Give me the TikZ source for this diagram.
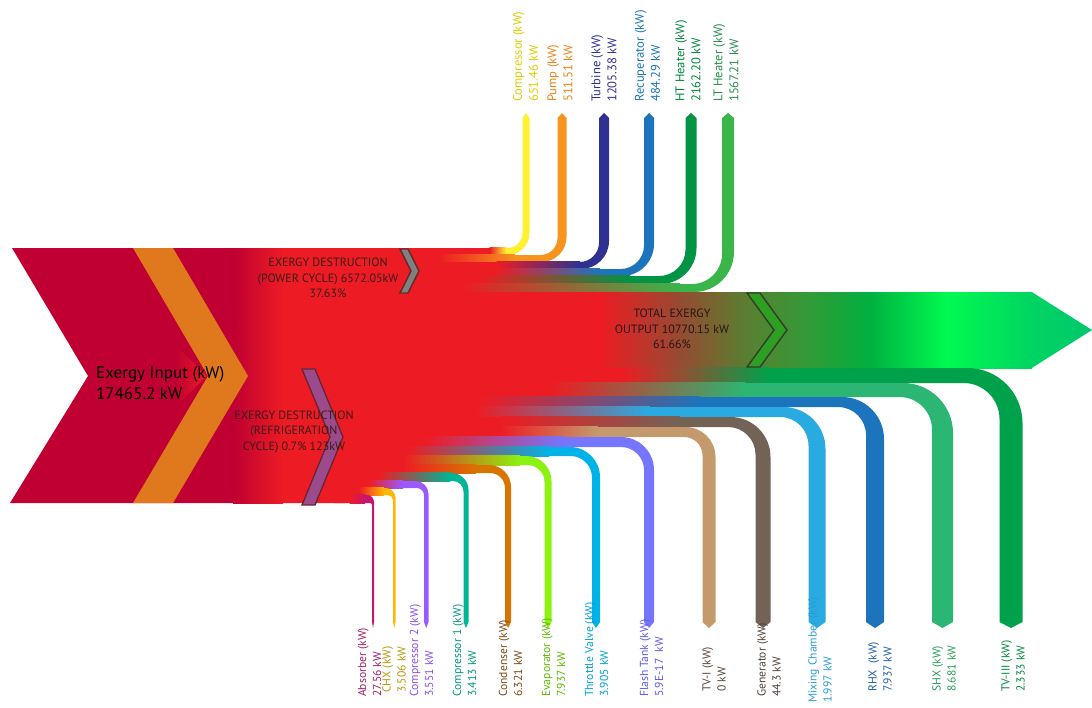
\documentclass[tikz,border=0pt]{standalone}
\usepackage{fontspec}
\setmainfont{PT Sans}

\definecolor{exred}{RGB}{237,28,36}
\definecolor{excrimson}{RGB}{192,0,50}
\definecolor{exorange}{RGB}{224,120,30}
\definecolor{labeldark}{RGB}{60,25,25}
% power cycle colours
\definecolor{pcyellow}{RGB}{255,240,50}
\definecolor{pcorange}{RGB}{247,148,29}
\definecolor{pcnavy}{RGB}{46,49,146}
\definecolor{pcblue}{RGB}{28,117,188}
\definecolor{pcgreen}{RGB}{0,148,68}
\definecolor{pclime}{RGB}{57,181,74}
% refrigeration cycle colours
\definecolor{rcabs}{RGB}{200,20,110}
\definecolor{rcchx}{RGB}{255,184,0}
\definecolor{rccomptwo}{RGB}{155,90,255}
\definecolor{rccompone}{RGB}{0,180,150}
\definecolor{rccond}{RGB}{217,116,0}
\definecolor{rcevap}{RGB}{140,242,15}
\definecolor{rcthrottle}{RGB}{0,179,230}
\definecolor{rcflash}{RGB}{117,117,255}
\definecolor{rctvone}{RGB}{196,154,108}
\definecolor{rcgen}{RGB}{115,99,87}
\definecolor{rcmix}{RGB}{41,171,226}
\definecolor{rcrhx}{RGB}{28,117,188}
\definecolor{rcshx}{RGB}{43,182,115}
\definecolor{rctvthree}{RGB}{0,161,75}
% output arrow
\definecolor{outbrown}{RGB}{150,75,50}
\definecolor{outolive}{RGB}{88,128,48}
\definecolor{outgreen}{RGB}{50,155,55}
\definecolor{outdeep}{RGB}{0,176,64}
\definecolor{outbright}{RGB}{0,250,80}
\definecolor{outend}{RGB}{0,212,98}
\definecolor{outtip}{RGB}{0,200,108}

% band: colour, top, bottom, left, right, radius, fade start, fade end
\newcommand{\downband}[8]{%
  \pgfmathsetmacro{\bandri}{max(#6-(#3-#2+#5-#4)/2,1.5)}%
  \pgfmathsetmacro{\bandko}{0.552*#6}%
  \pgfmathsetmacro{\bandki}{0.552*\bandri}%
  \pgfmathsetmacro{\bandmid}{(#4+#5)/2}%
  \fill[#1] (335,#2) -- ({#5-#6},#2) .. controls ({#5-#6+\bandko},#2) and (#5,{#2+#6-\bandko}) .. (#5,{#2+#6})
    -- (#5,622) -- (\bandmid,628) -- (#4,622) -- (#4,{#3+\bandri})
    .. controls (#4,{#3+\bandri-\bandki}) and ({#4-\bandri+\bandki},#3) .. ({#4-\bandri},#3) -- (335,#3) -- cycle;
  \fill[exred] (335,{#2-0.4}) rectangle (#7,{#3+0.4});
  \shade[left color=exred, right color=#1] ({#7-0.3},{#2-0.4}) rectangle (#8,{#3+0.4});
}
\newcommand{\upband}[8]{%
  \pgfmathsetmacro{\bandri}{max(#6-(#3-#2+#5-#4)/2,1.5)}%
  \pgfmathsetmacro{\bandko}{0.552*#6}%
  \pgfmathsetmacro{\bandki}{0.552*\bandri}%
  \pgfmathsetmacro{\bandmid}{(#4+#5)/2}%
  \fill[#1] (335,#3) -- ({#5-#6},#3) .. controls ({#5-#6+\bandko},#3) and (#5,{#3-#6+\bandko}) .. (#5,{#3-#6})
    -- (#5,118) -- (\bandmid,113) -- (#4,118) -- (#4,{#2-\bandri})
    .. controls (#4,{#2-\bandri+\bandki}) and ({#4-\bandri+\bandki},#2) .. ({#4-\bandri},#2) -- (335,#2) -- cycle;
  \fill[exred] (335,{#2-0.4}) rectangle (#7,{#3+0.4});
  \shade[left color=exred, right color=#1] ({#7-0.3},{#2-0.4}) rectangle (#8,{#3+0.4});
}

\begin{document}
\begin{tikzpicture}[x=1pt, y=-1pt,
  barlabel/.style={rotate=90, anchor=west, align=left, inner sep=0pt, font=\fontsize{11.6}{15}\selectfont},
  toplabel/.style={barlabel, font=\fontsize{12.6}{16}\selectfont},
  midlabel/.style={align=center, inner sep=0pt, text=labeldark, font=\fontsize{12}{15.5}\selectfont},
  chevron/.style={line width=1.4pt, line join=miter}]

\useasboundingbox (0,0) rectangle (1092,707);

%input
\fill[excrimson] (12,248) -- (345,248) -- (345,503) -- (10,503) -- (88,376) -- cycle;
\shade[left color=excrimson, right color=exred] (233,248) rectangle (283,503);
\fill[exred] (282.7,248) rectangle (345,503);
\shade[left color=excrimson, right color=exred] (175,345) -- (207,376) -- (175,407) -- cycle;
\fill[exorange] (133,248) -- (173,248) -- (248,376) -- (173,503) -- (133,503) -- (208,376) -- cycle;

%power cycle
\upband{pcyellow}{248}{255}{522.5}{529.5}{22}{490}{506}
\upband{pcorange}{255}{262}{557.5}{566.5}{25}{440}{515}
\upband{pcnavy}{262}{269}{599}{609}{28}{497}{580}
\upband{pcblue}{269}{276}{644}{654}{32}{497}{600}
\upband{pcgreen}{276}{284}{685.5}{696.5}{36}{480}{630}
\upband{pclime}{284}{292}{722}{734}{40}{463}{680}

%output
\fill[exred] (335,292) rectangle (600,368);
\shade[left color=exred, right color=outbrown] (599.7,292) rectangle (680,368);
\shade[left color=outbrown, right color=outolive] (679.7,292) rectangle (747,368);
\shade[left color=outolive, right color=outgreen] (746.7,292) rectangle (810,368);
\shade[left color=outgreen, right color=outdeep] (809.7,292) rectangle (870,368);
\shade[left color=outdeep, right color=outbright] (869.7,292) rectangle (947,368);
\shade[left color=outbright, right color=outend] (946.7,292) rectangle (1032,368);
\shade[left color=outend, right color=outtip] (1031.7,292) -- (1092,330) -- (1031.7,368) -- cycle;

%refrigeration cycle
\downband{rctvthree}{368}{383}{999.5}{1022.5}{55}{623}{769}
\downband{rcshx}{383}{397}{932}{953}{50}{550}{745}
\downband{rcrhx}{397}{407}{866}{884}{42}{480}{700}
\downband{rcmix}{407}{417}{808.5}{825.5}{42}{476}{650}
\downband{rcgen}{417}{427}{755.5}{770.5}{40}{500}{680}
\downband{rctvone}{427}{437}{702.5}{715.5}{30}{500}{598}
\downband{rcflash}{437}{447}{644}{654}{33}{427}{564}
\downband{rcthrottle}{447}{456}{592}{600}{30}{408}{549}
\downband{rcevap}{456}{465}{544.5}{551.5}{25}{403}{520}
\downband{rccond}{465}{473}{505}{511}{22}{403}{476}
\downband{rccompone}{473}{481}{463.5}{468.5}{17}{379}{450}
\downband{rccomptwo}{481}{488}{424}{428.5}{13}{369}{403}
\downband{rcchx}{488}{495}{393}{395.5}{10}{359}{384}
\downband{rcabs}{495}{503}{372}{374}{7}{350}{365}

%chevrons
\filldraw[chevron, fill={rgb,255:red,128;green,128;blue,128}, draw={rgb,255:red,105;green,40;blue,40}]
  (400,249) -- (408,249) -- (419,271) -- (408,293) -- (400,293) -- (411,271) -- cycle;
\filldraw[chevron, fill={rgb,255:red,155;green,75;blue,140}, draw={rgb,255:red,110;green,35;blue,50}]
  (302,369) -- (315,369) -- (343,437) -- (315,505) -- (302,505) -- (330,437) -- cycle;
\filldraw[chevron, fill={rgb,255:red,45;green,160;blue,35}, draw={rgb,255:red,50;green,62;blue,40}]
  (747,293) -- (760,293) -- (787,330) -- (760,367) -- (747,367) -- (774,330) -- cycle;

%texts
\node[anchor=west, align=left, inner sep=0pt, font=\fontsize{17}{21}\selectfont] (input) at (96,383) {Exergy Input (kW)\\17465.2 kW};
\node[midlabel] (powerloss) at (328,278) {EXERGY DESTRUCTION\\(POWER CYCLE) 6572.05kW\\37.63\%};
\node[midlabel] (refloss) at (294,432) {EXERGY DESTRUCTION\\(REFRIGERATION\\CYCLE) 0.7\% 123kW};
\node[midlabel, text={rgb,255:red,40;green,20;blue,20}] (output) at (672,329) {TOTAL EXERGY\\OUTPUT 10770.15 kW\\61.66\%};

\node[toplabel, text={rgb,255:red,222;green,205;blue,0}] (lbl-comp) at (525.5,102) {Compressor (kW)\\651.46 kW};
\node[toplabel, text={rgb,255:red,235;green,130;blue,25}] (lbl-pump) at (560,102) {Pump (kW)\\511.51 kW};
\node[toplabel, text=pcnavy] (lbl-turb) at (604,102) {Turbine (kW)\\1205.38 kW};
\node[toplabel, text=pcblue] (lbl-recup) at (647.5,102) {Recuperator (kW)\\484.29 kW};
\node[toplabel, text={rgb,255:red,0;green,135;blue,62}] (lbl-ht) at (688,102) {HT Heater (kW)\\2162.20 kW};
\node[toplabel, text={rgb,255:red,40;green,140;blue,75}] (lbl-lt) at (726,102) {LT Heater (kW)\\1567.21 kW};

\node[barlabel, text={rgb,255:red,158;green,31;blue,99}] (lbl-abs) at (369.5,697) {Absorber (kW)\\27.56 kW};
\node[barlabel, text={rgb,255:red,184;green,150;blue,10}] (lbl-chx) at (394,693) {CHX (kW)\\3.506 kW};
\node[barlabel, text={rgb,255:red,138;green,79;blue,230}] (lbl-comptwo) at (421.5,697) {Compressor 2 (kW)\\3.551 kW};
\node[barlabel, text={rgb,255:red,0;green,150;blue,125}] (lbl-compone) at (464.5,697) {Compressor 1 (kW)\\3.413 kW};
\node[barlabel, text={rgb,255:red,122;green,74;blue,20}] (lbl-cond) at (510.5,697) {Condenser (kW)\\6.321 kW};
\node[barlabel, text={rgb,255:red,92;green,184;blue,0}] (lbl-evap) at (553.5,697) {Evaporator (kW)\\7.937 kW};
\node[barlabel, text={rgb,255:red,0;green,160;blue,214}] (lbl-throttle) at (596.5,697) {Throttle Valve (kW)\\3.905 kW};
\node[barlabel, text={rgb,255:red,91;green,91;blue,232}] (lbl-flash) at (651.5,697) {Flash Tank (kW)\\5.9E-17~ kW};
\node[barlabel, text={rgb,255:red,90;green,70;blue,54}] (lbl-tvone) at (714,692) {TV-I (kW)\\0 kW};
\node[barlabel, text={rgb,255:red,77;green,66;blue,57}] (lbl-gen) at (769,697) {Generator (kW)\\44.3 kW};
\node[barlabel, text={rgb,255:red,42;green,154;blue,212}] (lbl-mix) at (820,703) {Mixing Chamber (kW)\\1.997 kW};
\node[barlabel, text={rgb,255:red,31;green,95;blue,166}] (lbl-rhx) at (880,692) {RHX~ (kW)\\7.937 kW};
\node[barlabel, text={rgb,255:red,42;green,154;blue,90}] (lbl-shx) at (944,692) {SHX (kW)\\8.681 kW};
\node[barlabel, text={rgb,255:red,0;green,135;blue,62}] (lbl-tvthree) at (1013,692) {TV-III (kW)\\2.333 kW};

\end{tikzpicture}
\end{document}
